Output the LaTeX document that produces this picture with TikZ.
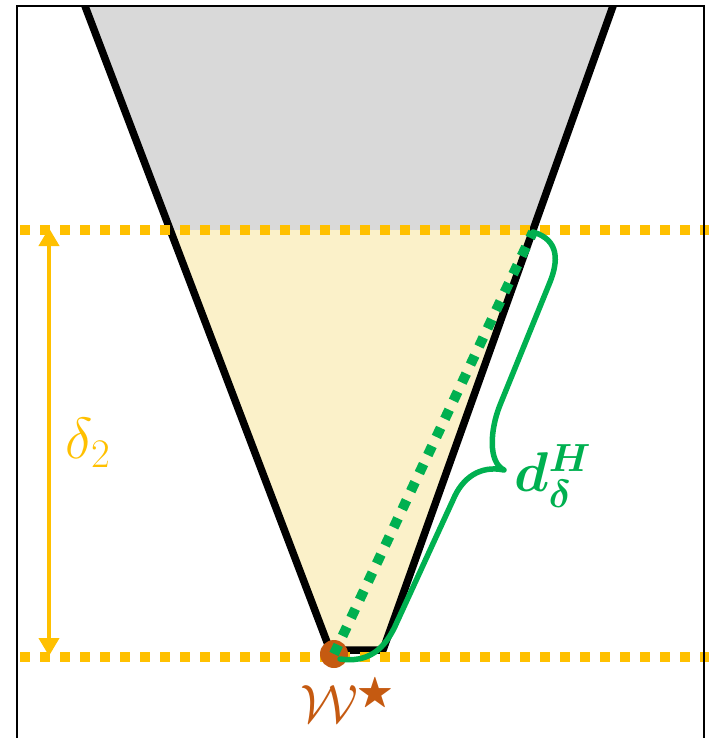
\RequirePackage{fix-cm}
\documentclass[tikz,border=0pt]{standalone}
\usepackage{amsmath,amssymb,bm}
\usetikzlibrary{arrows.meta}
\definecolor{gold}{HTML}{FFC000}
\definecolor{grn}{HTML}{00B050}
\definecolor{brn}{HTML}{C55A11}
\definecolor{conegray}{HTML}{D9D9D9}
\definecolor{coneyel}{HTML}{FBF1C9}
\tikzset{
  golddots/.style={gold, line width=10pt, dash pattern=on 10pt off 10pt},
  grndots/.style={grn, line width=10pt, dash pattern=on 10pt off 10pt},
  edge/.style={line width=7.5pt, line join=round},
  lbl/.style={inner sep=0pt}
}
\begin{document}
\begin{tikzpicture}[x=1pt,y=-1pt]
\useasboundingbox (0,0) rectangle (709,738);
\coordinate (TL) at (85,6);
\coordinate (BL) at (330,650);
\coordinate (BR) at (383,650);
\coordinate (TR) at (613,6);
\coordinate (P) at (533,232);
\coordinate (W) at (334,654);
% fills
\begin{scope}
\clip (0,0) rectangle (709,230);
\fill[conegray] (TL)--(BL)--(BR)--(TR)--cycle;
\end{scope}
\begin{scope}
\clip (0,230) rectangle (709,738);
\fill[coneyel] (TL)--(BL)--(BR)--(TR)--cycle;
\end{scope}
% cone edges
\begin{scope}
\clip (17,6) rectangle (704,738);
\draw[edge] (TL)--(BL)--(BR)--(TR);
\end{scope}
% horizontal dotted lines
\coordinate (Y1a) at (20,230);
\coordinate (Y1b) at (709,230);
\coordinate (Y2a) at (20,657);
\coordinate (Y2b) at (709,657);
\draw[golddots] (Y1a) -- (Y1b);
\draw[golddots] (Y2a) -- (Y2b);
% height arrow
\coordinate (A1) at (49,228);
\coordinate (A2) at (49,656);
\draw[gold, line width=4pt, {Triangle[width=20pt,length=18pt]}-{Triangle[width=20pt,length=18pt]}] (A1) -- (A2);
\node[lbl, text=gold, font=\fontsize{58}{68}\selectfont] (d2) at (88,443) {$\delta_2$};
% dot
\fill[brn] (W) circle (14);
% green dotted diagonal
\draw[grndots] (W) -- (P);
% green brace
\draw[grn, line width=5.5pt, line cap=round, line join=round]
  (P) .. controls (560,240) and (558,262) .. (550,282)
  -- (500,405) .. controls (490,430) and (488,462) .. (504,470)
  .. controls (480,465) and (462,478) .. (453,500)
  -- (397,622) .. controls (385,650) and (368,663) .. (340,659);
\node[lbl, text=grn, font=\fontsize{56}{66}\selectfont] (dH) at (553,476) {$\bm{d}_{\bm{\delta}}^{\bm{H}}$};
\node[lbl, text=brn, font=\fontsize{54}{64}\selectfont] (Ws) at (347,700) {$\mathcal{W}^{\bigstar}$};
% frame
\draw[line width=2pt] (17,740) -- (17,6) -- (704,6) -- (704,740);
\end{tikzpicture}
\end{document}
